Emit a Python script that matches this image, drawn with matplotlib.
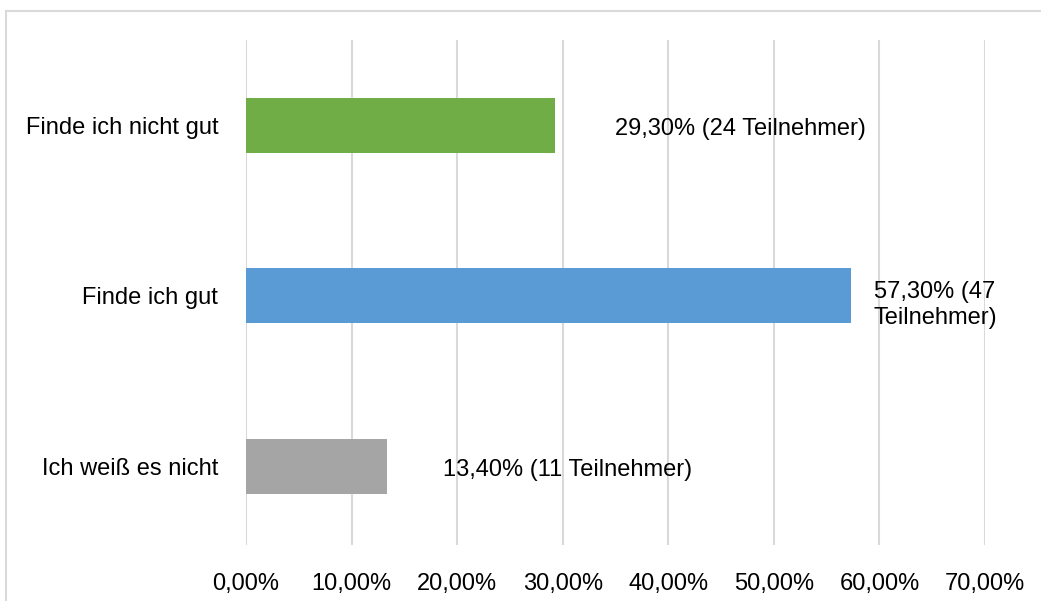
import matplotlib.pyplot as plt
from matplotlib.lines import Line2D

# survey answers, bottom to top as drawn
categories = ["Ich weiß es nicht", "Finde ich gut", "Finde ich nicht gut"]
percent = [13.4, 57.3, 29.3]
participants = [11, 47, 24]
bar_labels = ["13,40% (11 Teilnehmer)", "57,30% (47\nTeilnehmer)", "29,30% (24 Teilnehmer)"]
xticks = [0, 10, 20, 30, 40, 50, 60, 70]
xtick_labels = ["0,00%", "10,00%", "20,00%", "30,00%", "40,00%", "50,00%", "60,00%", "70,00%"]

colors = ["#A5A5A5", "#5B9BD5", "#70AD47"]
label_offsets = [(40, -2.5), (16, -6.5), (43, -2.5)]  # points, from the bar end

plt.rcParams['font.family'] = ['Liberation Sans', 'DejaVu Sans']
fs = 17

fig = plt.figure(figsize=(10.41, 6.01), dpi=100)
ax = fig.add_axes([246 / 1041, 1 - 545 / 601, (985 - 246) / 1041, (545 - 40) / 601])

y = range(len(categories))
ax.barh(y, percent, height=0.323, color=colors, zorder=2)

for i in y:
    ax.annotate(bar_labels[i], xy=(percent[i], i), xytext=label_offsets[i],
                textcoords="offset points", ha="left", va="center",
                multialignment="center", linespacing=1.25,
                fontsize=fs, color="#000000", zorder=3)

ax.set_xlim(0, 70)
ax.set_ylim(-0.46, 2.5)
ax.set_xticks(xticks)
ax.set_xticklabels(xtick_labels, fontsize=fs)
ax.set_yticks(list(y))
ax.set_yticklabels(categories, fontsize=fs)
ax.tick_params(axis="both", length=0)
ax.tick_params(axis="x", pad=20)
ax.tick_params(axis="y", pad=20)
ax.grid(axis="x", color="#D9D9D9", linewidth=1.5, zorder=0)
for s in ax.spines.values():
    s.set_visible(False)

# chart area border (cut off on the right and bottom)
fig.add_artist(Line2D([6 / 1041, 1.0], [1 - 11 / 601, 1 - 11 / 601],
                      transform=fig.transFigure, color="#D9D9D9", linewidth=1.5))
fig.add_artist(Line2D([6 / 1041, 6 / 1041], [0.0, 1 - 11 / 601],
                      transform=fig.transFigure, color="#D9D9D9", linewidth=1.5))

fig.savefig("out.png", dpi=100)
